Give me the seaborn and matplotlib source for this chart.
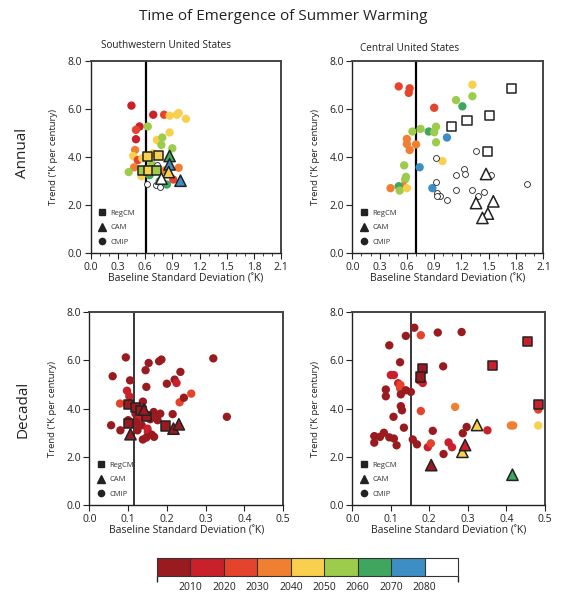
import pandas as pd
import seaborn as sns
import matplotlib.pyplot as plt
from matplotlib.lines import Line2D
from matplotlib.colors import ListedColormap, BoundaryNorm
from matplotlib.cm import ScalarMappable
from matplotlib.ticker import MultipleLocator, FormatStrFormatter

# decade of emergence -> colour (2090 = no emergence, white)
decades = [2010, 2020, 2030, 2040, 2050, 2060, 2070, 2080, 2090]
decade_colors = ['#9a1b1f', '#c9202c', '#e5432c', '#f17f31', '#f8d04e',
                 '#9dcb4c', '#3ea65f', '#3d8ec5', '#ffffff']
cbar_ticks = [2010, 2020, 2030, 2040, 2050, 2060, 2070, 2080]

# (baseline std, trend, decade)
sw_annual_cmip = [
    (0.45, 6.15, 2020), (0.69, 5.77, 2020), (0.81, 5.77, 2030), (0.87, 5.73, 2050),
    (0.95, 5.77, 2050), (0.97, 5.84, 2050), (1.05, 5.60, 2050), (0.54, 5.28, 2020),
    (0.50, 5.14, 2030), (0.63, 5.28, 2060), (0.87, 5.03, 2050), (0.50, 4.75, 2020),
    (0.73, 4.72, 2050), (0.76, 4.65, 2050), (0.79, 4.82, 2060), (0.78, 4.51, 2060),
    (0.49, 4.30, 2040), (0.90, 4.37, 2060), (0.47, 4.05, 2050), (0.52, 3.88, 2030),
    (0.57, 3.95, 2050), (0.48, 3.58, 2040), (0.42, 3.38, 2060), (0.97, 3.56, 2040),
    (0.91, 3.07, 2030), (0.56, 3.21, 2050), (0.65, 3.25, 2070), (0.76, 3.00, 2070),
    (0.84, 2.86, 2070), (0.80, 2.90, 2070), (0.69, 4.16, 2050), (0.67, 3.74, 2060),
    (0.70, 3.50, 2040), (0.82, 3.45, 2040),
    (0.62, 2.88, 2090), (0.72, 2.84, 2090), (0.76, 2.77, 2090), (0.73, 3.67, 2090),
]
sw_annual_regcm = [(0.63, 4.02, 2050), (0.75, 4.08, 2050), (0.57, 3.44, 2060),
                   (0.64, 3.44, 2050), (0.73, 3.44, 2060)]
sw_annual_cam = [(0.87, 4.05, 2070), (0.87, 3.70, 2080), (0.86, 3.38, 2050),
                 (0.78, 3.11, 2090), (0.99, 3.02, 2080)]

c_annual_cmip = [
    (0.51, 6.95, 2030), (0.63, 6.87, 2030), (0.62, 6.68, 2030), (0.90, 6.06, 2030),
    (1.32, 7.02, 2050), (1.32, 6.54, 2060), (1.14, 6.38, 2060), (1.21, 6.12, 2070),
    (0.66, 5.07, 2060), (0.75, 5.18, 2060), (0.84, 5.07, 2070), (0.90, 5.04, 2060),
    (0.92, 5.27, 2060), (0.60, 4.76, 2040), (0.60, 4.55, 2040), (0.63, 4.30, 2040),
    (0.70, 4.53, 2040), (0.92, 4.62, 2060), (1.04, 4.82, 2080), (0.99, 3.84, 2050),
    (0.74, 3.58, 2080), (0.57, 3.66, 2060), (0.59, 3.18, 2060), (0.58, 3.07, 2060),
    (0.42, 2.71, 2040), (0.56, 2.79, 2040), (0.51, 2.79, 2070), (0.52, 2.61, 2060),
    (0.60, 2.71, 2050), (0.88, 2.71, 2080),
    (0.92, 3.95, 2090), (0.92, 2.95, 2090), (0.93, 2.49, 2090), (0.96, 2.39, 2090),
    (0.93, 2.39, 2090), (1.04, 2.21, 2090), (1.14, 2.63, 2090), (1.14, 3.24, 2090),
    (1.23, 3.51, 2090), (1.24, 3.32, 2090), (1.32, 2.65, 2090), (1.36, 4.27, 2090),
    (1.38, 2.40, 2090), (1.45, 2.53, 2090), (1.52, 3.27, 2090), (1.92, 2.89, 2090),
]
c_annual_regcm = [(1.09, 5.27, 2090), (1.26, 5.54, 2090), (1.51, 5.73, 2090),
                  (1.75, 6.87, 2090), (1.49, 4.23, 2090)]
c_annual_cam = [(1.47, 3.30, 2090), (1.36, 2.09, 2090), (1.55, 2.16, 2090),
                (1.49, 1.65, 2090), (1.43, 1.47, 2090)]

sw_decadal_cmip = [
    (0.094, 6.12, 2010), (0.060, 5.34, 2010), (0.105, 5.17, 2010), (0.145, 5.59, 2010),
    (0.153, 5.89, 2010), (0.180, 5.96, 2010), (0.186, 6.03, 2010), (0.200, 5.03, 2010),
    (0.220, 5.20, 2010), (0.225, 5.06, 2020), (0.235, 5.52, 2010), (0.320, 6.08, 2010),
    (0.147, 4.90, 2010), (0.097, 4.74, 2020), (0.103, 4.51, 2020), (0.079, 4.21, 2030),
    (0.138, 4.29, 2010), (0.233, 4.26, 2030), (0.244, 4.45, 2010), (0.263, 4.62, 2030),
    (0.056, 3.31, 2010), (0.080, 3.10, 2010), (0.100, 3.52, 2010), (0.119, 3.79, 2010),
    (0.166, 3.86, 2010), (0.174, 3.72, 2010), (0.183, 3.79, 2010), (0.215, 3.77, 2010),
    (0.157, 3.56, 2010), (0.176, 3.52, 2010), (0.125, 3.38, 2020), (0.135, 3.31, 2010),
    (0.150, 3.17, 2020), (0.151, 3.03, 2020), (0.161, 2.92, 2010), (0.138, 2.72, 2010),
    (0.147, 2.80, 2010), (0.167, 2.83, 2010), (0.355, 3.66, 2010), (0.124, 3.10, 2010),
    (0.130, 3.60, 2020), (0.120, 3.45, 2010),
]
sw_decadal_regcm = [(0.100, 4.18, 2010), (0.118, 4.03, 2010), (0.100, 3.38, 2010),
                    (0.133, 3.93, 2010), (0.147, 3.68, 2010), (0.197, 3.28, 2010)]
sw_decadal_cam = [(0.141, 3.96, 2010), (0.106, 2.94, 2010), (0.217, 3.17, 2010),
                  (0.231, 3.35, 2010)]

c_decadal_cmip = [
    (0.161, 7.35, 2010), (0.139, 7.01, 2010), (0.178, 7.04, 2030), (0.222, 7.15, 2010),
    (0.284, 7.17, 2010), (0.096, 6.62, 2010), (0.124, 5.92, 2010), (0.100, 5.39, 2020),
    (0.108, 5.39, 2020), (0.119, 5.05, 2020), (0.125, 4.98, 2030), (0.124, 4.84, 2030),
    (0.236, 5.75, 2010), (0.174, 5.17, 2020), (0.183, 5.06, 2020), (0.087, 4.79, 2010),
    (0.087, 4.51, 2010), (0.126, 4.59, 2010), (0.139, 4.76, 2010), (0.152, 4.69, 2010),
    (0.107, 3.66, 2010), (0.126, 4.10, 2010), (0.129, 3.93, 2010), (0.178, 3.90, 2030),
    (0.267, 4.07, 2040), (0.134, 3.21, 2010), (0.057, 2.86, 2010), (0.057, 2.59, 2010),
    (0.072, 2.83, 2010), (0.082, 3.00, 2010), (0.096, 2.81, 2010), (0.108, 2.76, 2010),
    (0.115, 2.48, 2010), (0.157, 2.72, 2010), (0.168, 2.52, 2010), (0.209, 3.08, 2010),
    (0.196, 2.40, 2020), (0.204, 2.56, 2030), (0.237, 2.12, 2010), (0.250, 2.60, 2020),
    (0.259, 2.40, 2020), (0.287, 2.98, 2010), (0.297, 3.24, 2010), (0.351, 3.10, 2020),
    (0.412, 3.30, 2040), (0.418, 3.30, 2040), (0.483, 3.30, 2050), (0.483, 3.96, 2030),
]
c_decadal_regcm = [(0.183, 5.66, 2010), (0.178, 5.31, 2010), (0.364, 5.77, 2020),
                   (0.455, 6.77, 2020), (0.483, 4.17, 2020)]
c_decadal_cam = [(0.205, 1.66, 2010), (0.324, 3.32, 2050), (0.286, 2.21, 2050),
                 (0.293, 2.49, 2020), (0.416, 1.26, 2070)]

sns.set_theme(style='ticks')
plt.rcParams['font.family'] = ['Open Sans', 'DejaVu Sans']
palette = dict(zip(decades, decade_colors))
cols = ['sd', 'trend', 'decade']


def draw_panel(ax, cmip, regcm, cam, vline, xmax, xstep, minor, vlw):
    df = pd.DataFrame(cmip, columns=cols)
    filled = df[df['decade'] < 2090]
    empty = df[df['decade'] == 2090]
    ax.axvline(vline, color='black', lw=vlw, zorder=1)
    sns.scatterplot(data=filled, x='sd', y='trend', hue='decade', palette=palette,
                    marker='o', s=36, linewidth=0, legend=False, ax=ax, zorder=2)
    if len(empty):
        sns.scatterplot(data=empty, x='sd', y='trend', color='white', edgecolor='#222222',
                        marker='o', s=18, linewidth=0.6, legend=False, ax=ax, zorder=2)
    for pts, marker, size in [(regcm, 's', 44), (cam, '^', 66)]:
        d = pd.DataFrame(pts, columns=cols)
        sns.scatterplot(data=d, x='sd', y='trend', hue='decade', palette=palette,
                        marker=marker, s=size, edgecolor='#222222', linewidth=1.1,
                        legend=False, ax=ax, zorder=3)
    ax.set_xlim(0, xmax)
    ax.set_ylim(0, 8)
    ax.xaxis.set_major_locator(MultipleLocator(xstep))
    ax.yaxis.set_major_locator(MultipleLocator(2))
    if minor:
        ax.xaxis.set_minor_locator(MultipleLocator(minor))
    ax.xaxis.set_major_formatter(FormatStrFormatter('%.1f'))
    ax.yaxis.set_major_formatter(FormatStrFormatter('%.1f'))
    ax.tick_params(which='major', direction='out', length=4, width=0.8, labelsize=7.5, pad=2,
                   colors='#222222')
    ax.tick_params(which='minor', direction='out', length=2, width=0.6, colors='#222222')
    for name, sp in ax.spines.items():
        sp.set_visible(True)
        sp.set_linewidth(1.0 if name in ('left', 'bottom') else 1.4)
        sp.set_color('#222222' if name in ('left', 'bottom') else '#444444')
    ax.set_xlabel('Baseline Standard Deviation (˚K)', fontsize=7.5, labelpad=1, color='#222222')
    ax.set_ylabel('Trend (˚K per century)', fontsize=6.8, labelpad=7, color='#222222')
    handles = [Line2D([], [], ls='', marker=m, color='#222222', markersize=ms)
               for m, ms in [('s', 4.5), ('^', 5.5), ('o', 4.5)]]
    ax.legend(handles, ['RegCM', 'CAM', 'CMIP'], loc='lower left', frameon=False,
              fontsize=5.5, handlelength=1, handletextpad=0.6, labelspacing=0.9,
              borderaxespad=0.6, labelcolor='#333333')


fig = plt.figure(figsize=(5.66, 6.0), dpi=100)
ax1 = fig.add_axes([0.160, 0.578, 0.337, 0.320])
ax2 = fig.add_axes([0.6225, 0.578, 0.3375, 0.320])
ax3 = fig.add_axes([0.158, 0.158, 0.342, 0.322])
ax4 = fig.add_axes([0.6225, 0.158, 0.340, 0.322])

draw_panel(ax1, sw_annual_cmip, sw_annual_regcm, sw_annual_cam, 0.61, 2.1, 0.3, 0.1, 1.6)
draw_panel(ax2, c_annual_cmip, c_annual_regcm, c_annual_cam, 0.70, 2.1, 0.3, 0.1, 1.6)
draw_panel(ax3, sw_decadal_cmip, sw_decadal_regcm, sw_decadal_cam, 0.114, 0.5, 0.1, None, 1.1)
draw_panel(ax4, c_decadal_cmip, c_decadal_regcm, c_decadal_cam, 0.153, 0.5, 0.1, None, 1.1)

fig.text(0.5, 0.973, 'Time of Emergence of Summer Warming', ha='center', va='center',
         fontsize=11, color='#222222')
fig.text(0.293, 0.925, 'Southwestern United States', ha='center', va='center',
         fontsize=7.2, color='#222222')
fig.text(0.724, 0.919, 'Central United States', ha='center', va='center',
         fontsize=7.2, color='#222222')
fig.text(0.040, 0.745, 'Annual', rotation=90, ha='center', va='center',
         fontsize=11, color='#222222')
fig.text(0.040, 0.318, 'Decadal', rotation=90, ha='center', va='center',
         fontsize=11, color='#222222')

# colour key
cax = fig.add_axes([0.2774, 0.040, 0.532, 0.030])
bounds = [2000] + decades
cmap = ListedColormap(decade_colors)
norm = BoundaryNorm(bounds, cmap.N)
cb = fig.colorbar(ScalarMappable(norm=norm, cmap=cmap), cax=cax, orientation='horizontal',
                  drawedges=True, ticks=cbar_ticks)
cb.ax.set_xticklabels([str(t) for t in cbar_ticks])
cb.ax.tick_params(length=0, labelsize=7.5, pad=4, colors='#222222')
cb.outline.set_linewidth(0.8)
cb.outline.set_edgecolor('#333333')
cb.dividers.set_linewidth(0.8)
cb.dividers.set_color('#333333')

plt.savefig('out.png', dpi=100)
